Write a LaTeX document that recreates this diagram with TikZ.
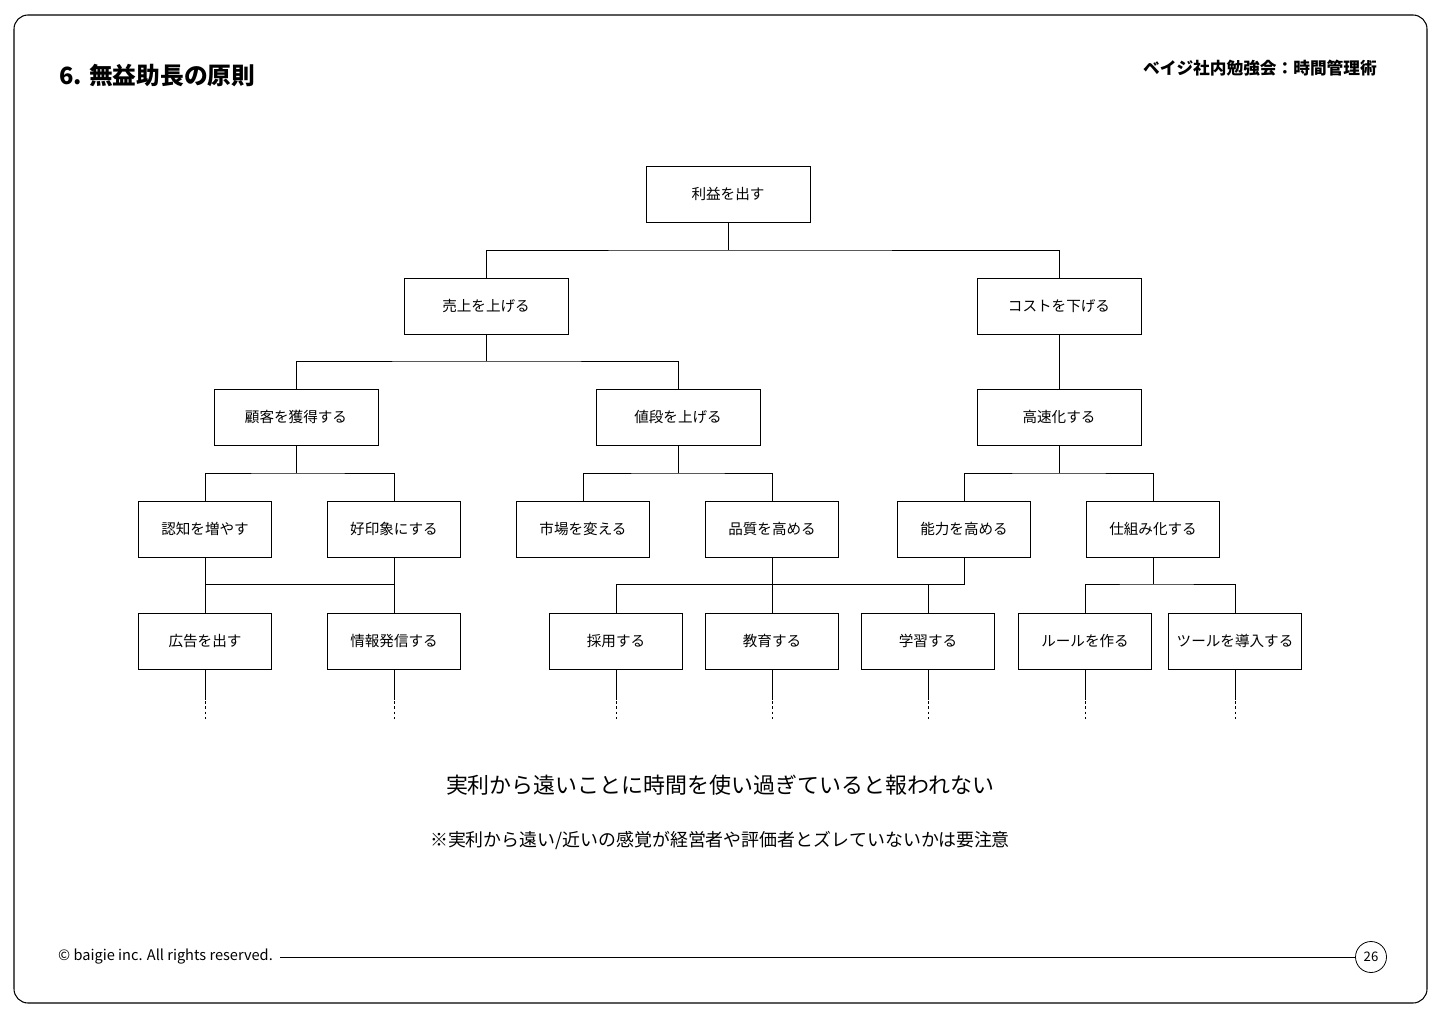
\documentclass[tikz,border=0pt]{standalone}
\usepackage{fontspec}
\setmainfont{Noto Sans CJK JP}
\begin{document}
\begin{tikzpicture}[x=0.02cm,y=-0.02cm,
 bx/.style={draw,line width=0.45pt,minimum height=1.12cm,inner sep=0pt,font=\fontsize{8.3}{9}\selectfont},
 w1/.style={bx,minimum width=3.28cm},
 w2/.style={bx,minimum width=2.66cm},
 ln/.style={line width=0.45pt},
 dl/.style={line width=0.45pt,dash pattern=on 1.5pt off 1.5pt}]
\useasboundingbox (0,0) rectangle (1440,1017);
\draw[line width=0.6pt,rounded corners=8pt] (14,15) rectangle (1427,1003);
\node[anchor=west,font=\bfseries\fontsize{13.5}{15}\selectfont] (title) at (53,76) {6. 無益助長の原則};
\node[anchor=east,font=\bfseries\fontsize{9.5}{11}\selectfont] (hdr) at (1383,68) {ベイジ社内勉強会：時間管理術};
\node[w1] (a) at (728,194) {利益を出す};
\node[w1] (b1) at (486,306) {売上を上げる};
\node[w1] (b2) at (1059,306) {コストを下げる};
\node[w1] (c1) at (296,417) {顧客を獲得する};
\node[w1] (c2) at (678,417) {値段を上げる};
\node[w1] (c3) at (1059,417) {高速化する};
\node[w2] (d1) at (205,529) {認知を増やす};
\node[w2] (d2) at (394,529) {好印象にする};
\node[w2] (d3) at (583,529) {市場を変える};
\node[w2] (d4) at (772,529) {品質を高める};
\node[w2] (d5) at (964,529) {能力を高める};
\node[w2] (d6) at (1153,529) {仕組み化する};
\node[w2] (e1) at (205,641) {広告を出す};
\node[w2] (e2) at (394,641) {情報発信する};
\node[w2] (e3) at (616,641) {採用する};
\node[w2] (e4) at (772,641) {教育する};
\node[w2] (e5) at (928,641) {学習する};
\node[w2] (e6) at (1085,641) {ルールを作る};
\node[w2] (e7) at (1235,641) {ツールを導入する};
\draw[ln] (a.south) -- (728,250) (b1.north) |- (728,250) -| (b2.north);
\draw[ln] (b1.south) -- (486,361) (c1.north) |- (486,361) -| (c2.north);
\draw[ln] (b2) -- (c3);
\draw[ln] (c1.south) -- (296,473) (d1.north) |- (296,473) -| (d2.north);
\draw[ln] (c2.south) -- (678,473) (d3.north) |- (678,473) -| (d4.north);
\draw[ln] (c3.south) -- (1059,473) (d5.north) |- (1059,473) -| (d6.north);
\draw[ln] (d1) -- (e1) (d2) -- (e2) (205,584) -- (394,584);
\draw[ln] (d4) -- (e4) (e3.north) |- (964,584) -- (d5.south) (e5.north) -- (928,584);
\draw[ln] (d6.south) -- (1153,584) (e6.north) |- (1153,584) -| (e7.north);
\foreach \n/\x in {e1/205,e2/394,e3/616,e4/772,e5/928,e6/1085,e7/1235}{
 \draw[ln] (\n.south) -- (\x,700);
 \coordinate (z\n) at (\x,721);
 \draw[dl] (\x,701) -- (z\n);}
\node[font=\fontsize{12.5}{14}\selectfont] (m1) at (720,785) {実利から遠いことに時間を使い過ぎていると報われない};
\node[font=\fontsize{10.2}{12}\selectfont] (m2) at (720,840) {※実利から遠い/近いの感覚が経営者や評価者とズレていないかは要注意};
\node[anchor=west,font=\fontsize{8.3}{10}\selectfont] (ft) at (52,957) {© baigie inc. All rights reserved.};
\node[draw,line width=0.45pt,circle,minimum size=0.62cm,inner sep=0pt,font=\fontsize{7.5}{9}\selectfont] (pg) at (1371,957) {26};
\draw[ln] (280,957) -- (pg.west);
\end{tikzpicture}
\end{document}
